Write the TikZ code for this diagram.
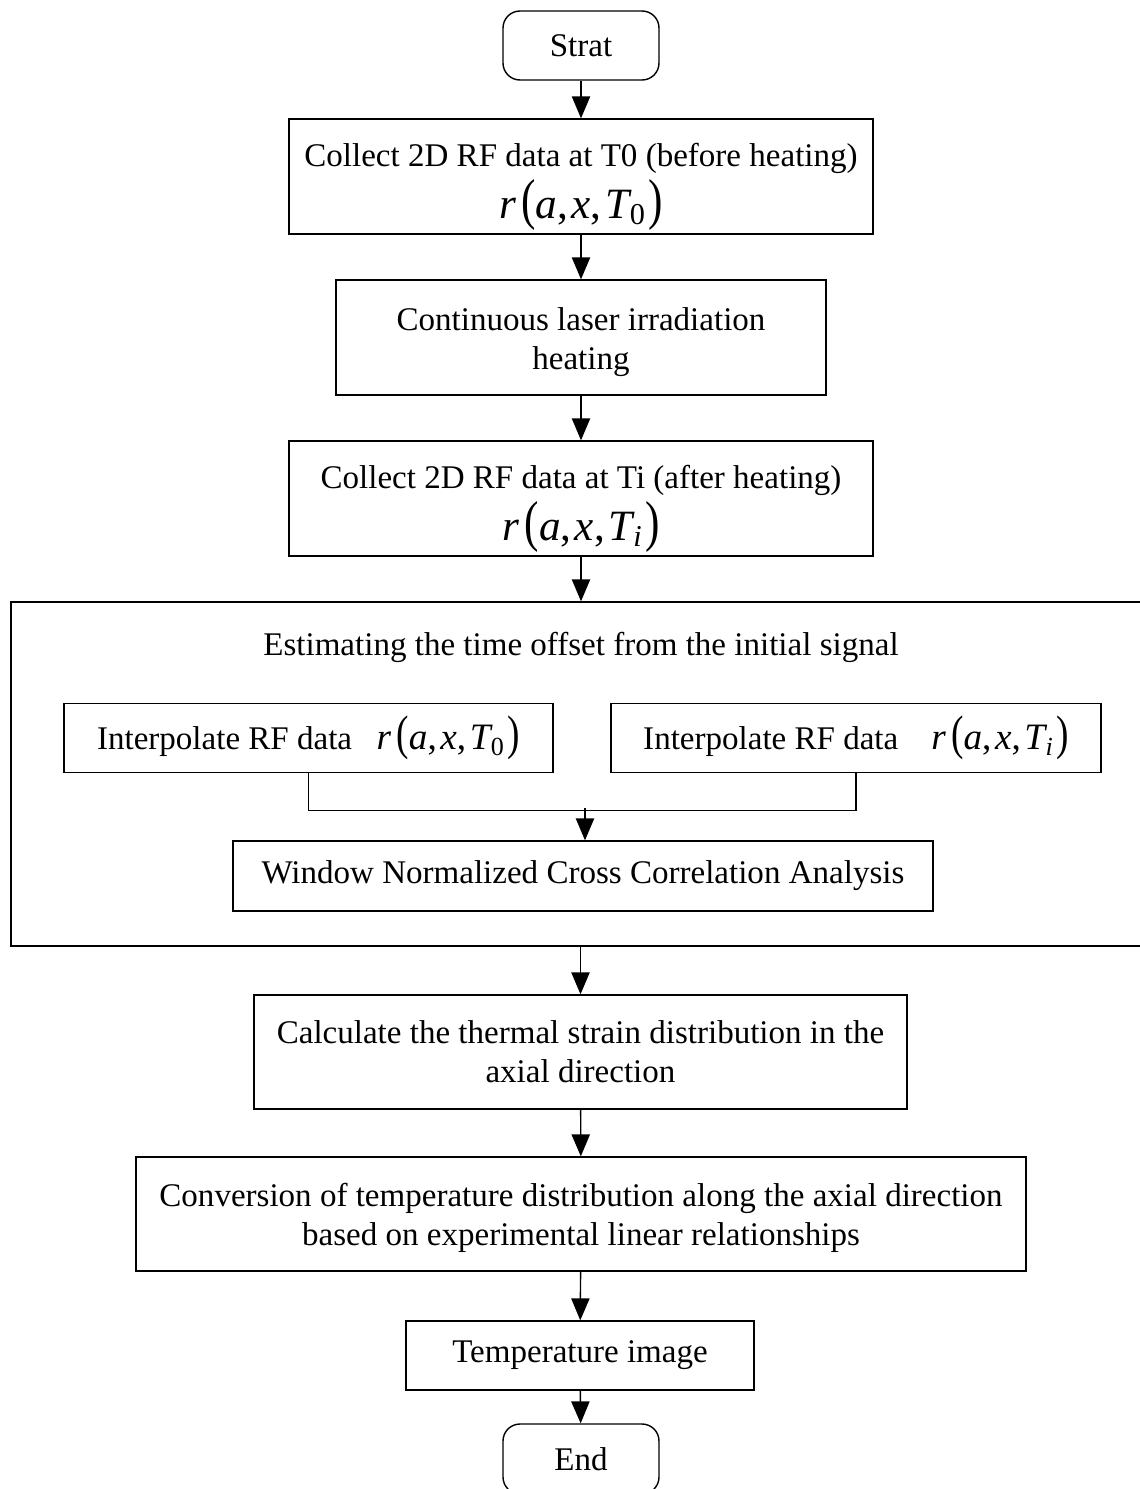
\documentclass[tikz,border=0pt]{standalone}
\usepackage{fontspec}
\setmainfont{Liberation Serif}
\usepackage{graphicx}
\usetikzlibrary{arrows,positioning,shapes}

\newcommand{\rfun}[1]{\textit{r}\kern1.5pt\scalebox{1}[1.3]{(}\textit{a},\kern1pt\textit{x},\kern1pt\textit{T}\kern-0.5pt\textsubscript{#1}\kern0.5pt\scalebox{1}[1.3]{)}}

\begin{document}
\begin{tikzpicture}[>=triangle 45, box/.style={draw = black, align=center, font=\fontsize{9.4}{11}\selectfont},
    term/.style={box, rounded corners=0.17cm, minimum width=1.56cm, minimum height=0.69cm}]

\useasboundingbox (0,0) rectangle (11.4,-14.89);

\node[term](p0) at (5.81,-0.455){Strat};
\node[box, inner ysep=0pt, minimum width=5.84cm, minimum height=1.15cm](p1) at (5.81,-1.765){\rule{0pt}{12.5pt}Collect 2D RF data at T0 (before heating)\\[0.5pt]{\fontsize{12.3}{13}\selectfont\rfun{0}}};
\node[box, minimum width=4.90cm, minimum height=1.15cm](p2) at (5.81,-3.375){\rule{0pt}{9pt}Continuous laser irradiation\\heating};
\node[box, inner ysep=0pt, minimum width=5.84cm, minimum height=1.15cm](p3) at (5.81,-4.985){\rule{0pt}{12.5pt}Collect 2D RF data at Ti (after heating)\\[0.5pt]{\fontsize{12.3}{13}\selectfont\rfun{\textit{i}}}};

% outer block
\node[draw = black, minimum width=11.39cm, minimum height=3.44cm](p4) at (5.805,-7.74){};
\node[font=\fontsize{9.4}{11}\selectfont](p5) at (5.81,-6.47){Estimating the time offset from the initial signal};
\node[box, minimum width=4.89cm, minimum height=0.69cm](p6) at (3.085,-7.38){Interpolate RF data\hspace{7pt}{\fontsize{10.6}{12}\selectfont\rfun{0}}};
\node[box, minimum width=4.90cm, minimum height=0.69cm](p7) at (8.56,-7.38){Interpolate RF data\quad{\fontsize{10.6}{12}\selectfont\rfun{\textit{i}}}};
\node[box, minimum width=7.00cm, minimum height=0.70cm](p8) at (5.83,-8.76){Window Normalized Cross Correlation Analysis};

\node[box, minimum width=6.53cm, minimum height=1.14cm](p9) at (5.805,-10.52){Calculate the thermal strain distribution in the\\axial direction};
\node[box, minimum width=8.90cm, minimum height=1.14cm](p10) at (5.81,-12.14){\rule{0pt}{9pt}Conversion of temperature distribution along the axial direction\\based on experimental linear relationships};
\node[box, minimum width=3.48cm, minimum height=0.69cm](p11) at (5.80,-13.555){Temperature image};
\node[term, minimum height=0.70cm](p12) at (5.81,-14.59){End};

\path[->] (p0) edge (p1);
\path[->] (p1) edge (p2);
\path[->] (p2) edge (p3);
\path[->] (p3) edge (p3 |- p4.north);
\draw (p6.south) -- ++(0,-0.37) -| (p7.south);
\coordinate (m) at (5.85,-8.08);
\path[->] (m) edge (m |- p8.north);
\path[->] (p4.south -| p9) edge (p9);
\path[->] (p9) edge (p10);
\path[->] (p10) edge (p11);
\path[->] (p11) edge (p12);

\end{tikzpicture}
\end{document}
